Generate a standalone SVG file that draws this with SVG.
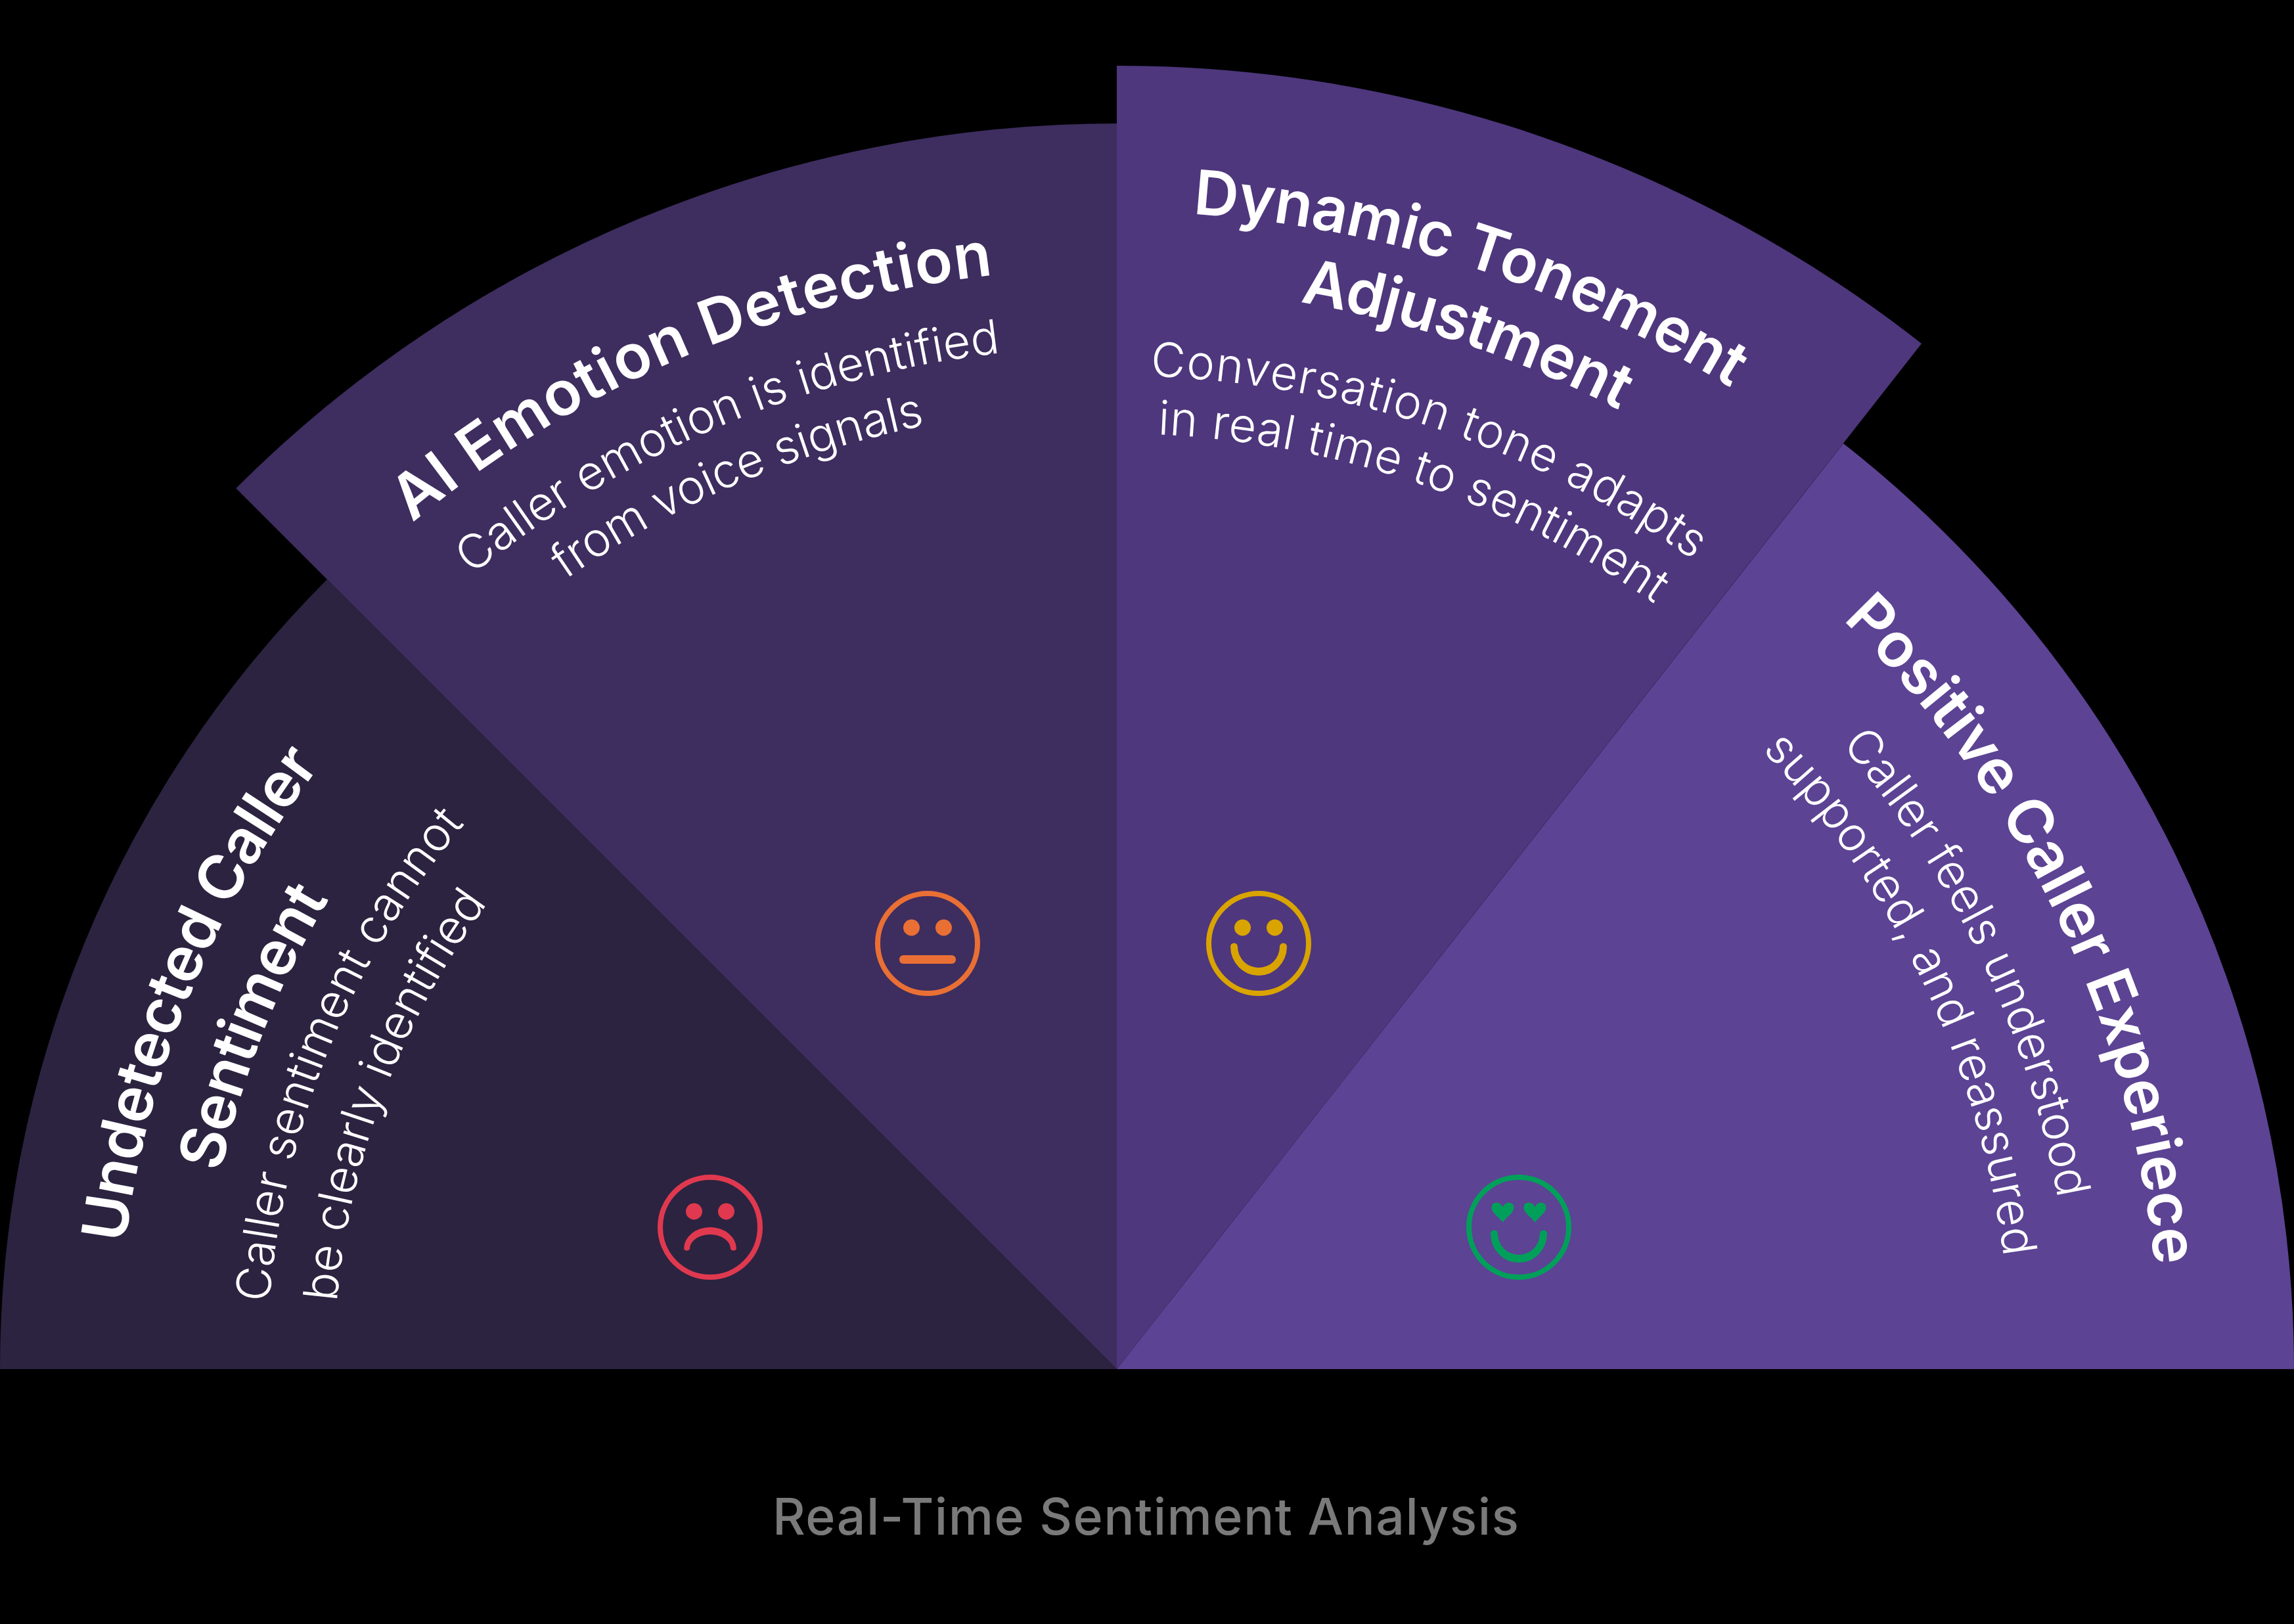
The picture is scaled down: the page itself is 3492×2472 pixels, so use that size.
<svg xmlns="http://www.w3.org/2000/svg" width="3492" height="2472" viewBox="0 0 3492 2472">
<style>
text{font-family:"Inter","Noto Sans",sans-serif;fill:#fff;text-anchor:middle}
.t{font-size:94px;font-weight:600}
.b{font-size:72px;font-weight:300}
.f{font-size:77px;font-weight:500;fill:#7a7a7a}
.ring{fill:none;stroke-width:8}
</style>
<defs>
<path id="r1522" d="M178,2084A1522,1522 0 0 1 3222,2084"/>
<path id="r1397" d="M303,2084A1397,1397 0 0 1 3097,2084"/>
<path id="r1294" d="M406,2084A1294,1294 0 0 1 2994,2084"/>
<path id="r1192" d="M508,2084A1192,1192 0 0 1 2892,2084"/>
<path id="r1676" d="M24,2084A1676,1676 0 0 1 3376,2084"/>
<path id="r1557" d="M143,2084A1557,1557 0 0 1 3257,2084"/>
<path id="r1466" d="M234,2084A1466,1466 0 0 1 3166,2084"/>
<path id="r1762" d="M-62,2084A1762,1762 0 0 1 3462,2084"/>
<path id="r1648" d="M52,2084A1648,1648 0 0 1 3348,2084"/>
<path id="r1512" d="M188,2084A1512,1512 0 0 1 3212,2084"/>
<path id="r1424" d="M276,2084A1424,1424 0 0 1 3124,2084"/>
<path id="r1588" d="M112,2084A1588,1588 0 0 1 3288,2084"/>
<path id="r1456" d="M244,2084A1456,1456 0 0 1 3156,2084"/>
<path id="r1361" d="M339,2084A1361,1361 0 0 1 3061,2084"/>
<path id="smile" d="M-43,5A43,44 0 0 0 43,5A5.5,5.5 0 0 0 32,5A32,32 0 0 1 -32,5A5.5,5.5 0 0 0 -43,5Z"/>
<path id="heart" d="M0,15C-8,5 -17,0 -17,-7C-17,-13 -13,-15 -9,-15C-5,-15 -2,-12 0,-8C2,-12 5,-15 9,-15C13,-15 17,-13 17,-7C17,0 8,5 0,15Z"/>
</defs>
<rect width="3492" height="2472" fill="#000"/>

<g id="sector-undetected">
<path d="M1700,2084L0,2084A1700,1700 0 0 1 497.900,881.900Z" fill="#2C2340"/>
</g>
<g id="sector-emotion">
<path d="M1700,2084L359.300,743.300A1896,1896 0 0 1 1700,188Z" fill="#3E2D5F"/>
</g>
<g id="sector-tone">
<path d="M1700,2084L1700,100A1984,1984 0 0 1 2925,523Z" fill="#4E377D"/>
</g>
<g id="sector-positive">
<path d="M1700,2084L2806,675A1792,1792 0 0 1 3492,2084Z" fill="#5C4394"/>
</g>

<g id="node-undetected">
<text class="t" textLength="795" transform="rotate(-67.8 1700 2084)"><textPath href="#r1522" startOffset="50%">Undetected Caller</textPath></text>
<text class="t" textLength="450" transform="rotate(-68.4 1700 2084)"><textPath href="#r1397" startOffset="50%">Sentiment</textPath></text>
<text class="b" textLength="800" transform="rotate(-67.8 1700 2084)"><textPath href="#r1294" startOffset="50%">Caller sentiment cannot</textPath></text>
<text class="b" textLength="657" transform="rotate(-69.3 1700 2084)"><textPath href="#r1192" startOffset="50%">be clearly identified</textPath></text>
<g transform="translate(1081 1868)">
<circle class="ring" r="76" stroke="#E0394F"/>
<circle cx="-24.500" cy="-24" r="12.500" fill="#E0394F"/><circle cx="24.500" cy="-24" r="12.500" fill="#E0394F"/>
<path d="M-40,33A40,33 0 0 1 40,33A5,5 0 0 1 31,33A31,22 0 0 0 -31,33A5,5 0 0 1 -40,33Z" fill="#E0394F"/>
</g>
</g>

<g id="node-emotion">
<text class="t" textLength="975" transform="rotate(-23.100 1700 2084)"><textPath href="#r1676" startOffset="50%">AI Emotion Detection</textPath></text>
<text class="b" textLength="885" transform="rotate(-22.800 1700 2084)"><textPath href="#r1557" startOffset="50%">Caller emotion is identified</textPath></text>
<text class="b" textLength="600" transform="rotate(-23.200 1700 2084)"><textPath href="#r1466" startOffset="50%">from voice signals</textPath></text>
<g transform="translate(1412 1436)">
<circle class="ring" r="76" stroke="#E96F35"/>
<circle cx="-24.500" cy="-24" r="12.500" fill="#E96F35"/><circle cx="24.500" cy="-24" r="12.500" fill="#E96F35"/>
<rect x="-43" y="18" width="86" height="13" rx="6" fill="#E96F35"/>
</g>
</g>

<g id="node-tone">
<text class="t" textLength="870" transform="rotate(17.900 1700 2084)"><textPath href="#r1762" startOffset="50%">Dynamic Tonement</textPath></text>
<text class="t" textLength="515" transform="rotate(18.700 1700 2084)"><textPath href="#r1648" startOffset="50%">Adjustment</textPath></text>
<text class="b" textLength="885" transform="rotate(18.700 1700 2084)"><textPath href="#r1512" startOffset="50%">Conversation tone adapts</textPath></text>
<text class="b" textLength="810" transform="rotate(18.800 1700 2084)"><textPath href="#r1424" startOffset="50%">in real time to sentiment</textPath></text>
<g transform="translate(1916 1436)">
<circle class="ring" r="76" stroke="#D9A400"/>
<circle cx="-24.500" cy="-24" r="12.500" fill="#D9A400"/><circle cx="24.500" cy="-24" r="12.500" fill="#D9A400"/>
<use href="#smile" fill="#D9A400"/>
</g>
</g>

<g id="node-positive">
<text class="t" textLength="1115" transform="rotate(64.200 1700 2084)"><textPath href="#r1588" startOffset="50%">Positive Caller Experiece</textPath></text>
<text class="b" textLength="775" transform="rotate(64.500 1700 2084)"><textPath href="#r1456" startOffset="50%">Caller feels understood</textPath></text>
<text class="b" textLength="870" transform="rotate(64.500 1700 2084)"><textPath href="#r1361" startOffset="50%">supported, and reassured</textPath></text>
<g transform="translate(2312 1868)">
<circle class="ring" r="76" stroke="#00A05A"/>
<use href="#heart" x="-24.500" y="-22.500" fill="#00A05A"/><use href="#heart" x="24.500" y="-22.500" fill="#00A05A"/>
<use href="#smile" y="5" fill="#00A05A"/>
</g>
</g>

<text id="footer" class="f" x="1744" y="2336" textLength="1136">Real-Time Sentiment Analysis</text>
</svg>
